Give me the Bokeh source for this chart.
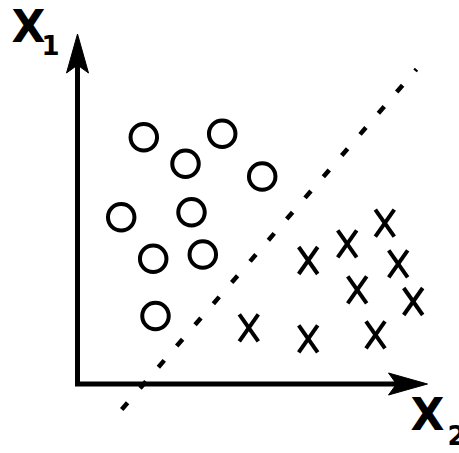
from bokeh.plotting import figure
from bokeh.models import Range1d
from bokeh.core.properties import value
from bokeh.embed import file_html
from bokeh.resources import INLINE

# ---- data (arbitrary units, origin at the axes corner) ----
circle_x = [6.63, 14.47, 10.80, 18.47, 4.37, 11.40, 7.57, 12.53, 7.80]
circle_y = [24.68, 25.02, 22.02, 20.75, 16.68, 17.18, 12.52, 12.95, 6.80]

cross_x = [23.07, 26.97, 30.73, 32.07, 27.97, 33.57, 17.13, 23.07, 29.80]
cross_y = [12.35, 14.02, 16.08, 12.02, 9.42, 8.25, 5.62, 4.52, 4.92]

boundary_x = [4.42, 33.90]
boundary_y = [-2.55, 31.48]

axis_max = 35.0

label_main = ["X", "X"]
label_main_x = [-6.6, 33.3]
label_main_y = [35.75, -3.05]
label_sub = ["1", "2"]
label_sub_x = [-3.6, 37.0]
label_sub_y = [33.95, -5.05]

# ---- layout ----
PX = 10.0           # pixels per data unit
W, H = 459, 453
x_left = -7.7
y_top = 38.35

p = figure(width=W, height=H,
           x_range=Range1d(x_left, x_left + W / PX),
           y_range=Range1d(y_top - H / PX, y_top),
           output_backend="svg", toolbar_location=None,
           x_axis_location=None, y_axis_location=None,
           min_border=0)
p.grid.visible = False
p.outline_line_color = None
p.background_fill_color = "white"
p.border_fill_color = "white"

# axes lines with arrow heads
head_len, head_half, head_notch = 3.9, 1.1, 3.1
p.line([axis_max - 3.0, 0, 0], [0, 0, axis_max - 3.0],
       line_color="black", line_width=5, line_join="miter", line_cap="butt")
p.patches(
    [[0, head_half, 0, -head_half],
     [axis_max, axis_max - head_len, axis_max - head_notch, axis_max - head_len]],
    [[axis_max, axis_max - head_len, axis_max - head_notch, axis_max - head_len],
     [0, head_half, 0, -head_half]],
    fill_color="black", line_color="black", line_width=1)

# decision boundary
p.line(boundary_x, boundary_y, line_color="black", line_width=4.5,
       line_dash="9 19", line_cap="butt")

# circles
p.scatter(circle_x, circle_y, marker="circle", size=26.5,
          fill_color=None, line_color="black", line_width=4)

# crosses drawn as two strokes around each data point
hw, hh = 0.95, 1.35
p.segment(x0=[x - hw for x in cross_x], y0=[y - hh for y in cross_y],
          x1=[x + hw for x in cross_x], y1=[y + hh for y in cross_y],
          line_color="black", line_width=4, line_cap="butt")
p.segment(x0=[x - hw for x in cross_x], y0=[y + hh for y in cross_y],
          x1=[x + hw for x in cross_x], y1=[y - hh for y in cross_y],
          line_color="black", line_width=4, line_cap="butt")

# axis labels
p.text(x=label_main_x, y=label_main_y, text=label_main,
       text_font=value("DejaVu Sans"), text_font_style="bold",
       text_font_size="44px", text_align="left", text_baseline="alphabetic",
       text_color="black")
p.text(x=label_sub_x, y=label_sub_y, text=label_sub,
       text_font=value("DejaVu Sans"), text_font_style="bold",
       text_font_size="26px", text_align="left", text_baseline="alphabetic",
       text_color="black")

open("out.html", "w").write(file_html(p, INLINE))
